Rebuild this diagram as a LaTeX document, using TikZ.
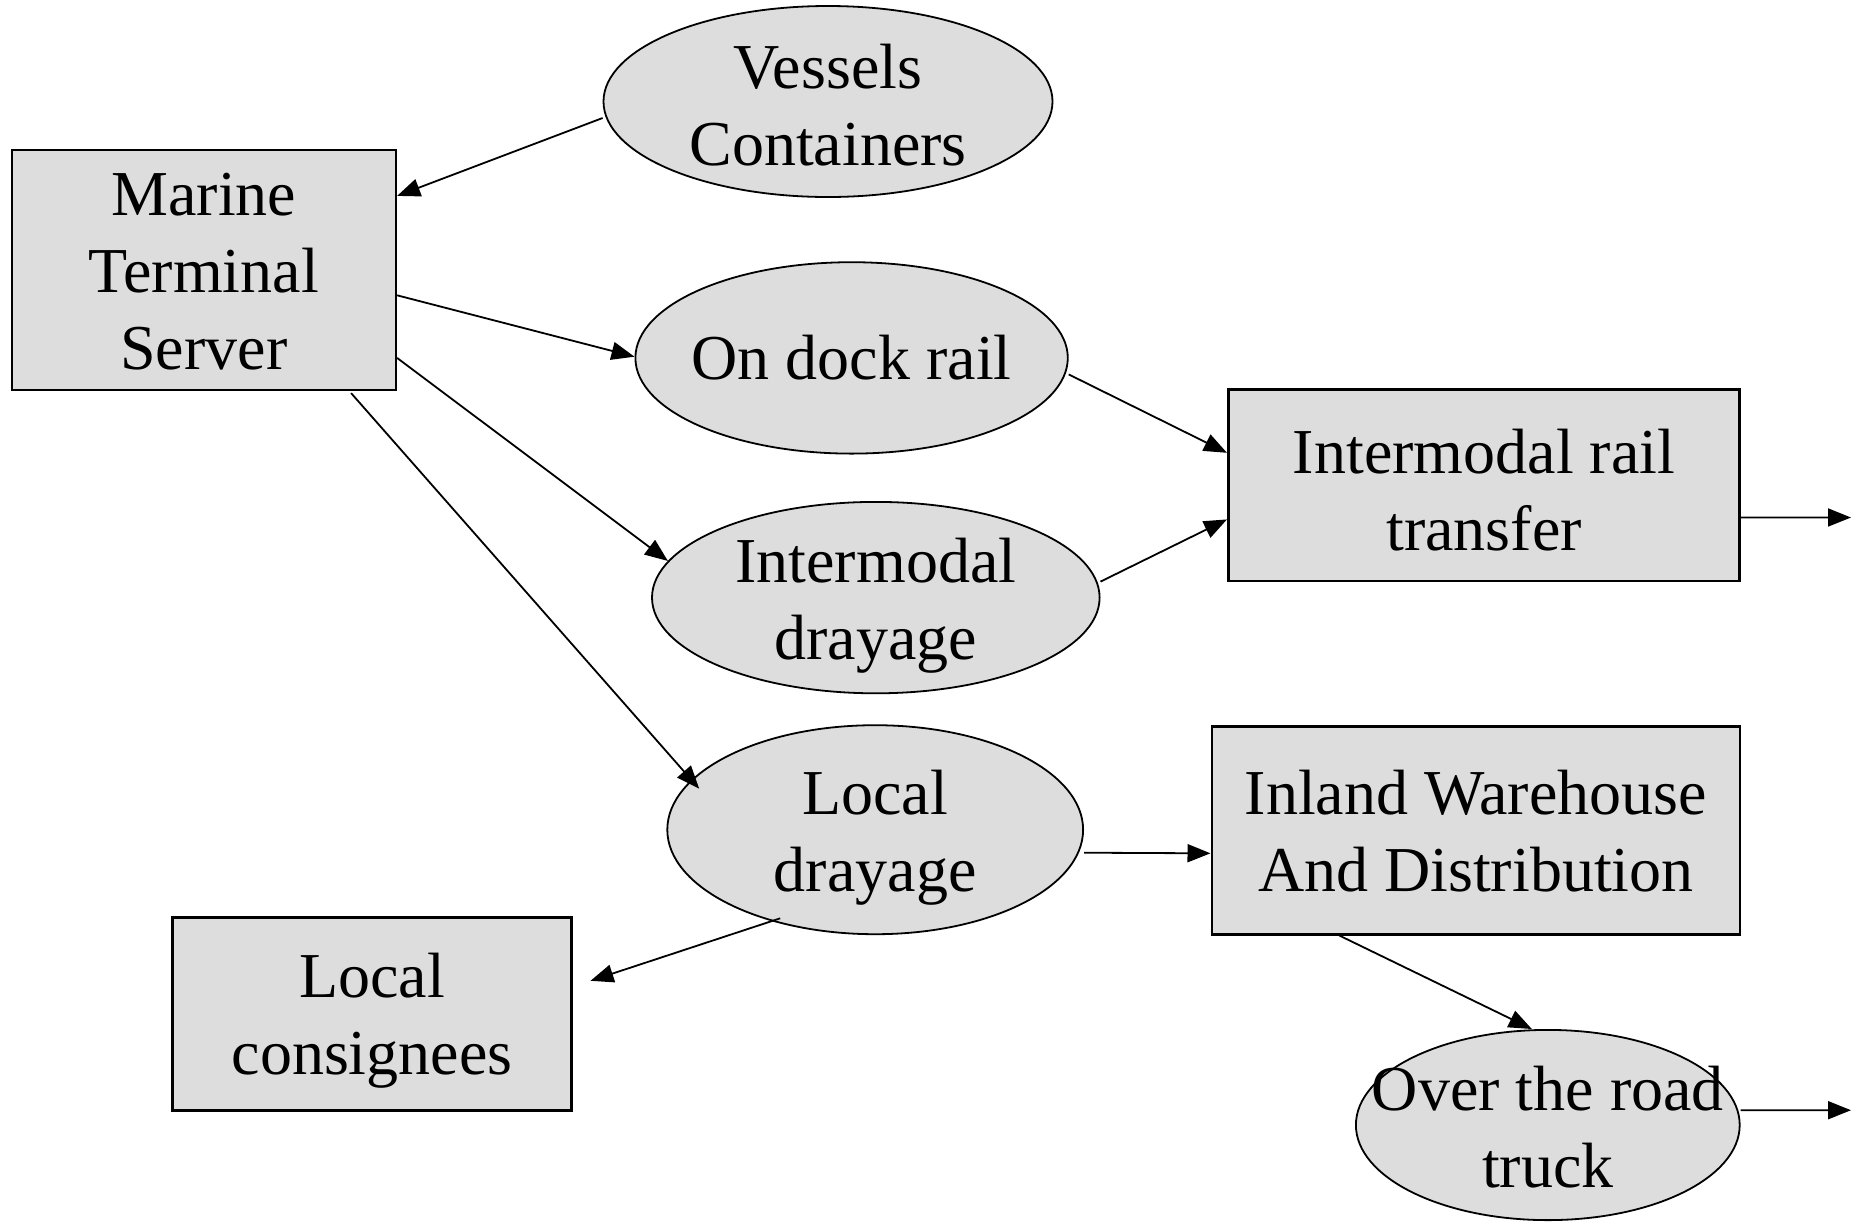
\documentclass[tikz,border=0pt]{standalone}
\usepackage{fontspec}
\setmainfont{Liberation Serif}
\usetikzlibrary{shapes.geometric,arrows.meta,calc}
\definecolor{shade}{HTML}{DDDDDD}
\begin{document}
\begin{tikzpicture}[x=0.5pt,y=-0.5pt,
  bigfont/.style={font=\fontsize{32pt}{38.5pt}\selectfont},
  box/.style={draw=black,line width=1.3pt,fill=shade,rectangle,inner sep=0pt},
  ell/.style={draw=black,line width=0.9pt,fill=shade,ellipse,inner sep=0pt},
  txt/.style={align=center,inner sep=0pt,bigfont},
  arr/.style={line width=0.9pt,-{Triangle[length=11.5pt,width=9pt]}}]
\useasboundingbox (0,0) rectangle (1852,1222);
\fill[white] (0,0) rectangle (1852,1222);

% boxes
\node[box,minimum width=192pt,minimum height=119.9pt,label={[txt,yshift=-1pt]center:{Marine\\Terminal\\Server}}] (marine) at (203.8,269.9) {};
\node[box,minimum width=255.7pt,minimum height=95.7pt,label={[txt,yshift=-2.3pt]center:{Intermodal rail\\transfer}}] (irt) at (1484,485.4) {};
\node[box,minimum width=264pt,minimum height=103.9pt,label={[txt,yshift=-0.5pt]center:{Inland Warehouse\\And Distribution}}] (inland) at (1475.8,830.3) {};
\node[box,minimum width=199.6pt,minimum height=96.3pt,label={[txt,yshift=-3.5pt]center:{Local\\consignees}}] (localcons) at (372,1014) {};

% ellipses
\node[ell,minimum width=224.5pt,minimum height=95.5pt,label={[txt,yshift=-1.8pt]center:{Vessels\\Containers}}] (vessels) at (828,101.5) {};
\node[ell,minimum width=216.2pt,minimum height=95.7pt,label={[txt]center:{On dock rail}}] (ondock) at (851.6,357.9) {};
\node[ell,minimum width=223.8pt,minimum height=95.7pt,label={[txt,yshift=-4pt]center:{Intermodal\\drayage}}] (intdray) at (875.8,597.6) {};
\node[ell,minimum width=207.9pt,minimum height=104.5pt,label={[txt,yshift=-4.1pt]center:{Local\\drayage}}] (localdray) at (875.2,829.7) {};
\node[ell,minimum width=191.9pt,minimum height=95.1pt,label={[txt,yshift=-1pt]center:{Over the road\\truck}}] (otr) at (1547.8,1125) {};

% free ends
\coordinate (out1) at (1851,517.5);
\coordinate (out2) at (1851,1110.2);

% connectors
\draw[arr] ([yshift=-8.25pt]vessels.west) -- ([yshift=37pt]marine.east);
\draw[arr] ([yshift=-12.7pt]marine.east) -- ([yshift=0.6pt]ondock.west);
\draw[arr] ([yshift=-44pt]marine.east) -- (intdray.170.7);
\draw[arr] ([xshift=-23pt,yshift=-1pt]marine.south east) -- ($(localdray.center)+(-176,-41)$);
\draw[arr] ([yshift=-8.25pt]ondock.east) -- ([yshift=16.3pt]irt.west);
\draw[arr] ([yshift=8pt]intdray.east) -- ([yshift=-17pt]irt.west);
\draw[arr] ([yshift=-16pt]irt.east) -- (out1);
\draw[arr] ([yshift=-11.5pt]localdray.east) -- ([yshift=-11.5pt]inland.west);
\draw[arr] ($(localdray.center)+(-95,88.6)$) -- ([xshift=8.8pt,yshift=16.6pt]localcons.east);
\draw[arr] ([xshift=64.4pt]inland.south west) -- ([xshift=-8pt]otr.north);
\draw[arr] ([yshift=7.4pt]otr.east) -- (out2);
\end{tikzpicture}
\end{document}
